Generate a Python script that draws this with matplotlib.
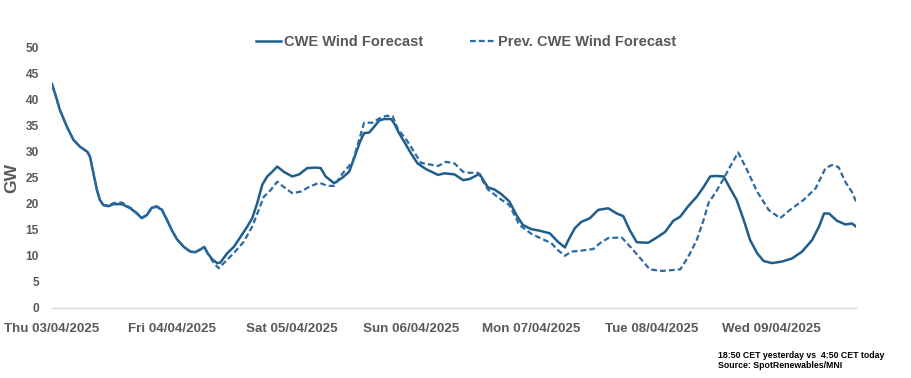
import numpy as np
import matplotlib
matplotlib.use("Agg")
import matplotlib.pyplot as plt
from matplotlib import font_manager

# hours since Thu 03/04/2025 00:00
cur_hours = [0, 0.6, 1.6, 3.0, 4.3, 5.6, 7.1, 7.6, 8.3, 9.0, 9.6, 10.3, 11.3, 12.3, 14.0,
             15.7, 17.0, 18.0, 19.0, 20.0, 21.0, 22.0, 23.0, 24.0, 25.0, 26.4, 27.7, 28.7,
             29.7, 30.5, 31.1, 32.1, 33.1, 33.7, 35.1, 36.4, 37.8, 39.1, 40.1, 41.1, 42.1,
             43.1, 44.1, 45.1, 46.4, 48.1, 49.5, 51.1, 52.8, 53.8, 54.8, 56.5, 58.2, 59.5,
             60.5, 61.7, 62.5, 63.5, 64.5, 65.5, 66.5, 67.9, 68.5, 69.5, 70.5, 71.9, 73.2,
             74.9, 77.3, 78.6, 80.6, 82.3, 83.6, 85.6, 87.3, 88.6, 90.0, 91.6, 93.0, 94.3,
             96.0, 97.7, 99.7, 101.3, 102.7, 103.4, 104.7, 106.0, 107.7, 109.4, 111.4, 113.1,
             114.4, 115.7, 117.1, 119.4, 121.1, 122.8, 124.4, 125.8, 127.4, 129.1, 130.5,
             131.8, 132.8, 134.5, 135.8, 137.1, 138.5, 139.8, 141.2, 142.5, 144.2, 146.2,
             148.2, 150.2, 152.2, 153.6, 154.6, 155.6, 157.2, 158.9, 160.2, 161.0]
cur_gw = [42.9, 41.1, 37.9, 34.7, 32.2, 30.9, 29.9, 29.0, 25.8, 22.6, 20.7, 19.7, 19.5, 19.9, 19.9,
          19.1, 18.1, 17.2, 17.8, 19.2, 19.4, 18.8, 16.9, 14.9, 13.2, 11.7, 10.8, 10.7,
          11.2, 11.7, 10.6, 9.3, 8.6, 8.7, 10.5, 11.7, 13.7, 15.6, 17.2, 20.1, 23.6,
          25.2, 26.1, 27.1, 26.1, 25.2, 25.6, 26.8, 26.9, 26.8, 25.2, 23.9, 25.0, 26.1,
          28.7, 31.9, 33.5, 33.6, 34.7, 35.9, 36.2, 36.2, 35.4, 33.5, 31.9, 29.6, 27.7,
          26.6, 25.5, 25.8, 25.6, 24.5, 24.7, 25.7, 23.1, 22.7, 21.8, 20.4, 17.8, 15.9,
          15.1, 14.8, 14.3, 12.7, 11.6, 13.0, 15.3, 16.5, 17.2, 18.8, 19.1, 18.1,
          17.6, 14.9, 12.6, 12.5, 13.5, 14.6, 16.7, 17.5, 19.5, 21.3, 23.2,
          25.2, 25.3, 25.2, 22.9, 20.7, 16.9, 13.0, 10.5, 9.0, 8.6, 8.9,
          9.5, 10.8, 13.0, 15.6, 18.1, 18.1, 16.7, 16.0, 16.2, 15.6]

prev_hours = [0, 0.6, 1.6, 3.0, 4.3, 5.6, 7.1, 7.6, 8.3, 9.0, 9.6, 10.3, 11.3, 12.3, 14.0,
              15.7, 17.0, 18.0, 19.0, 20.0, 21.0, 22.0, 23.0, 24.0, 25.0, 26.4, 27.7, 28.7,
              29.7, 30.5, 31.1, 32.4, 33.4, 34.4, 36.4, 38.4, 40.1, 41.4, 42.4, 43.8, 45.1,
              46.4, 48.1, 49.8, 51.5, 53.5, 55.2, 56.5, 58.2, 60.2, 61.5, 62.5, 64.2, 65.5,
              66.9, 68.2, 69.2, 71.2, 72.9, 73.9, 75.6, 77.3, 78.9, 80.6, 82.3, 83.6, 85.3,
              87.3, 89.6, 91.6, 93.6, 96.0, 98.0, 100.0, 101.3, 102.7, 104.0, 106.0, 108.4,
              109.7, 111.4, 114.1, 116.1, 118.1, 119.7, 122.1, 125.8, 127.4, 129.1, 130.5,
              131.5, 132.8, 134.5, 135.8, 137.4, 139.2, 141.2, 143.5, 145.8, 147.8, 150.5,
              152.9, 154.9, 156.2, 157.5, 158.9, 160.2, 161.0]
prev_gw = [42.9, 41.1, 37.9, 34.7, 32.2, 30.9, 29.9, 29.0, 25.8, 22.6, 20.7, 19.7, 19.6, 20.1, 20.2,
           19.2, 18.2, 17.3, 17.9, 19.3, 19.5, 18.9, 17.0, 14.9, 13.2, 11.7, 10.8, 10.7,
           11.2, 11.7, 10.6, 8.6, 7.6, 8.6, 10.5, 12.7, 15.6, 18.8, 21.3, 22.6, 24.2,
           23.2, 22.0, 22.3, 23.2, 24.0, 23.4, 23.4, 25.8, 28.0, 32.2, 35.5, 35.5, 36.3,
           36.8, 36.8, 34.4, 31.9, 29.3, 27.8, 27.5, 27.2, 28.0, 27.7, 26.1, 25.9, 25.9,
           22.7, 21.0, 19.7, 15.9, 14.2, 13.3, 12.4, 11.1, 10.0, 10.8, 11.0, 11.3,
           12.4, 13.4, 13.5, 11.4, 9.2, 7.4, 7.1, 7.4, 9.8, 13.0, 16.9,
           20.2, 22.0, 24.8, 27.1, 29.8, 26.4, 22.3, 18.8, 17.2, 18.8, 20.7,
           22.9, 26.8, 27.4, 27.0, 24.1, 22.2, 20.4]

day_ticks = [0, 24, 48, 72, 96, 120, 144]
day_labels = ["Thu 03/04/2025", "Fri 04/04/2025", "Sat 05/04/2025", "Sun 06/04/2025",
              "Mon 07/04/2025", "Tue 08/04/2025", "Wed 09/04/2025"]

names = {f.name for f in font_manager.fontManager.ttflist}
narrow = "Liberation Sans Narrow" if "Liberation Sans Narrow" in names else None
plt.rcParams["font.family"] = ["Liberation Sans", "DejaVu Sans"]
plt.rcParams["font.weight"] = "bold"

grey = "#595959"
c_cur = "#1F5E8C"
c_prev = "#2A6AA3"

fig = plt.figure(figsize=(9.11, 3.78), dpi=100)
ax = fig.add_axes([52 / 911, 70 / 378, 804 / 911, 261 / 378])

ax.plot(cur_hours, cur_gw, color=c_cur, lw=1.8, label="CWE Wind Forecast")
ax.plot(prev_hours, prev_gw, color=c_prev, lw=1.6, linestyle=(0, (2.6, 1.4)),
        label="Prev. CWE Wind Forecast")

ax.set_xlim(0, 161)
ax.set_ylim(0, 50)
ax.set_yticks(range(0, 51, 5))
ax.set_xticks(day_ticks)
ax.set_xticklabels(day_labels)
for s in ["top", "right", "left"]:
    ax.spines[s].set_visible(False)
ax.spines["bottom"].set_color("#D9D9D9")
ax.spines["bottom"].set_linewidth(1.0)
ax.tick_params(axis="both", length=0, colors=grey)
ax.tick_params(axis="x", pad=11, labelsize=9.6)
if narrow:
    ax.tick_params(axis="y", pad=9.5, labelsize=9)
    for lab in ax.get_yticklabels():
        lab.set_family([narrow, "DejaVu Sans"])
else:
    ax.tick_params(axis="y", pad=9.5, labelsize=8.6)

fig.text(12 / 911, 1 - 178 / 378, "GW", rotation=90, ha="center", va="center",
         fontsize=12.5, color=grey, fontweight="bold")

ax.legend(loc="center", bbox_to_anchor=(466 / 911, 1 - 42 / 378),
          bbox_transform=fig.transFigure, ncol=2, frameon=False,
          fontsize=10.5, labelcolor=grey, handlelength=1.75, handletextpad=0.2,
          columnspacing=3.2, borderpad=0)

note_font = [narrow, "DejaVu Sans"] if narrow else ["Liberation Sans", "DejaVu Sans"]
note_size = 7 if narrow else 6.3
fig.text(718 / 911, 1 - 355 / 378, "18:50 CET yesterday vs  4:50 CET today",
         family=note_font, fontsize=note_size, fontweight="bold",
         color="black", ha="left", va="center")
fig.text(718 / 911, 1 - 366 / 378, "Source: SpotRenewables/MNI",
         family=note_font, fontsize=note_size, fontweight="bold",
         color="black", ha="left", va="center")

fig.savefig("out.png", dpi=100)
